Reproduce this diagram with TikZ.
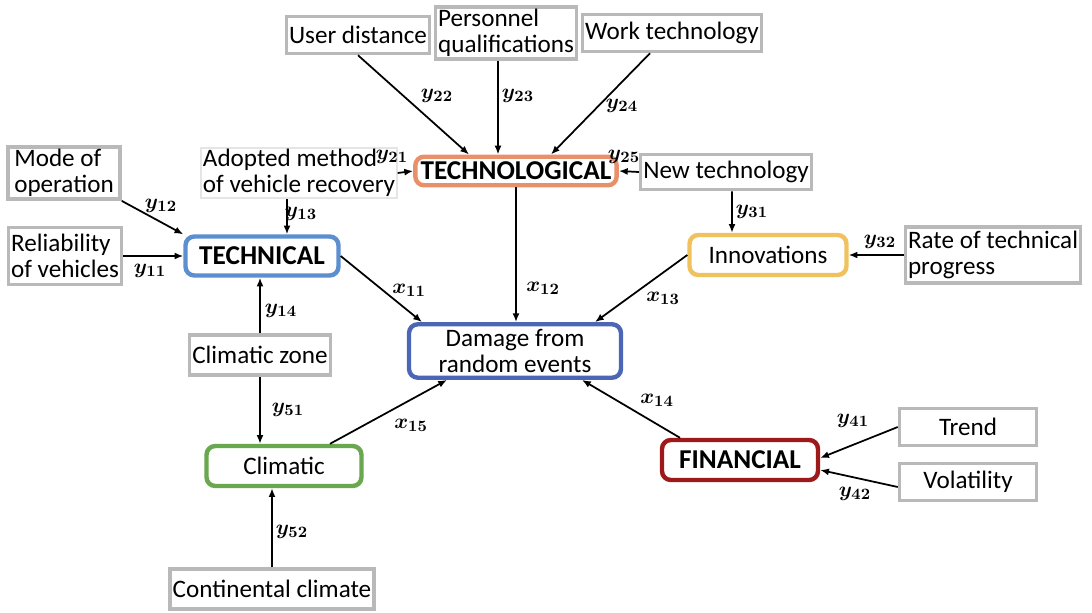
\documentclass[tikz,border=0pt]{standalone}
\usepackage{fontspec}
\setmainfont{Carlito}
\usepackage{bm}
\usetikzlibrary{arrows.meta}

\definecolor{techblue}{HTML}{5B8FD0}
\definecolor{logorange}{HTML}{E8906A}
\definecolor{innoyellow}{HTML}{EFC25E}
\definecolor{dmgblue}{HTML}{4A66B4}
\definecolor{climgreen}{HTML}{6AA84F}
\definecolor{finred}{HTML}{9E1A1A}

\tikzset{
  factor/.style={rectangle,draw=gray!55,line width=2pt,fill=white,inner sep=1.5pt,
    font=\fontsize{14.3}{14.5}\selectfont},
  group/.style={rectangle,rounded corners=5pt,line width=2.5pt,fill=white,inner sep=3pt,
    font=\fontsize{14.3}{14.5}\selectfont},
  bold/.style={font=\fontsize{15.5}{16}\selectfont\bfseries},
  arr/.style={-{Latex[length=5pt,width=4pt]},line width=1pt},
  coef/.style={font=\fontsize{12.5}{12.5}\selectfont,inner sep=0pt}
}
\newcommand{\cf}[2]{$\bm{#1}_{\bm{#2}}$}

\begin{document}
\begin{tikzpicture}[x=0.02cm, y=-0.02cm]
            \useasboundingbox (0,0) rectangle (1092,612);
            % factors
            \node[factor,minimum width=2.4cm,minimum height=0.74cm] (USER) at (358,35) {User distance};
            \node[factor,minimum width=2.54cm,minimum height=0.76cm,align=left] (PERS) at (506,33) {Personnel\\qualifications};
            \node[factor,minimum width=3.52cm,minimum height=0.74cm] (WORK) at (672,33) {Work technology};
            \node[factor,draw=gray!20,line width=1pt,inner sep=1pt,align=left] (ADOP) at (299,173) {Adopted method\\of vehicle recovery};
            \node[factor,minimum width=2.8cm,minimum height=0.7cm] (NEWT) at (726,172) {New technology};
            \node[factor,minimum width=2.48cm,minimum height=1.12cm,align=left] (RATE) at (993,255) {Rate of technical\\progress};
            \node[factor,minimum width=2.24cm,minimum height=0.84cm,align=left] (MODE) at (64,173) {Mode of\\operation};
            \node[factor,minimum width=2.26cm,minimum height=1.14cm,align=left] (RELI) at (65,256) {Reliability\\of vehicles};
            \node[factor,minimum width=2.7cm,minimum height=0.8cm] (CZON) at (260,355) {Climatic zone};
            \node[factor,minimum width=3.1cm,minimum height=0.8cm] (CONT) at (272,589) {Continental climate};
            \node[factor,minimum width=2.74cm,minimum height=0.74cm] (TRND) at (968,427) {Trend};
            \node[factor,minimum width=2.74cm,minimum height=0.74cm] (VOLA) at (968,482) {Volatility};

            % groups
            \node[group,draw=logorange,bold] (TLOG) at (516,171) {TECHNOLOGICAL};
            \node[group,draw=techblue,minimum width=3.06cm,minimum height=0.78cm,bold] (TECH) at (262,256) {TECHNICAL};
            \node[group,draw=innoyellow,minimum width=3.14cm,minimum height=0.8cm] (INNO) at (768,255) {Innovations};
            \node[group,draw=dmgblue,minimum width=4.24cm,minimum height=0.86cm,align=center] (DAMG) at (515,351) {Damage from\\random events};
            \node[group,draw=climgreen,minimum width=3.1cm,minimum height=0.8cm] (CLIM) at (284,466) {Climatic};
            \node[group,draw=finred,minimum width=3.12cm,minimum height=0.8cm,bold] (FIN) at (740,460) {FINANCIAL};

            % connectors
            \draw[arr] (USER.south) -- ([xshift=-0.94cm]TLOG.north);
            \draw[arr] ([xshift=-0.16cm]PERS.south) -- ([xshift=-0.16cm]PERS.south |- TLOG.north);
            \draw[arr] ([xshift=-0.44cm]WORK.south) -- ([xshift=0.7cm]TLOG.north);
            \draw[arr] (ADOP.east) -- (TLOG.west);
            \draw[arr] (NEWT.west) -- (TLOG.east);
            \draw[arr] ([xshift=-0.24cm]ADOP.south) -- ([xshift=0.5cm]TECH.north);
            \draw[arr] (MODE.south east) -- (TECH.north west);
            \draw[arr] (RELI.east) -- (TECH.west);
            \draw[arr] (CZON.north) -- (CZON.north |- TECH.south);
            \draw[arr] (CZON.south) -- (CZON.south |- CLIM.north);
            \draw[arr] (CONT.north) -- (CONT.north |- CLIM.south);
            \draw[arr] ([xshift=0.12cm]NEWT.south) -- ([xshift=-0.72cm]INNO.north);
            \draw[arr] (RATE.west) -- (INNO.east);
            \draw[arr] (TRND.west) -- ([yshift=0.04cm]FIN.east);
            \draw[arr] ([yshift=-0.1cm]VOLA.west) -- ([yshift=-0.2cm]FIN.east);
            \draw[arr] (TECH.east) -- ([xshift=-1.86cm]DAMG.north);
            \draw[arr] (TLOG.south) -- (TLOG.south |- DAMG.north);
            \draw[arr] (INNO.west) -- ([xshift=1.6cm]DAMG.north);
            \draw[arr] ([xshift=-1.2cm]FIN.north) -- ([xshift=1.34cm]DAMG.south);
            \draw[arr] ([xshift=0.92cm]CLIM.north) -- ([xshift=-1.36cm]DAMG.south);

            % coefficients
            \node[coef] (c11) at (150,271) {\cf{y}{11}};
            \node[coef] (c12) at (161,206) {\cf{y}{12}};
            \node[coef] (c13) at (301,214) {\cf{y}{13}};
            \node[coef] (c14) at (281,311) {\cf{y}{14}};
            \node[coef] (c21) at (392,157) {\cf{y}{21}};
            \node[coef] (c22) at (437,96) {\cf{y}{22}};
            \node[coef] (c23) at (518,96) {\cf{y}{23}};
            \node[coef] (c24) at (622,106) {\cf{y}{24}};
            \node[coef] (c25) at (624,157) {\cf{y}{25}};
            \node[coef] (c31) at (752,212) {\cf{y}{31}};
            \node[coef] (c32) at (880,242) {\cf{y}{32}};
            \node[coef] (c41) at (853,421) {\cf{y}{41}};
            \node[coef] (c42) at (855,494) {\cf{y}{42}};
            \node[coef] (c51) at (288,410) {\cf{y}{51}};
            \node[coef] (c52) at (292,532) {\cf{y}{52}};
            \node[coef] (d11) at (409,290) {\cf{x}{11}};
            \node[coef] (d12) at (543,288) {\cf{x}{12}};
            \node[coef] (d13) at (663,298) {\cf{x}{13}};
            \node[coef] (d14) at (657,400) {\cf{x}{14}};
            \node[coef] (d15) at (411,425) {\cf{x}{15}};
        \end{tikzpicture}
\end{document}
